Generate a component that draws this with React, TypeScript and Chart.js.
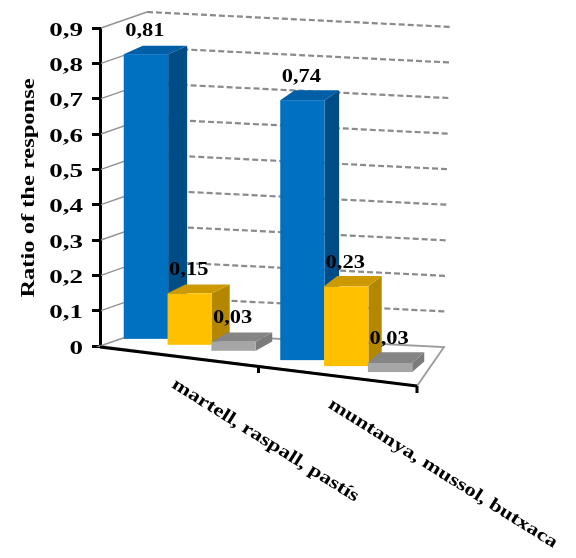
import React, { useEffect, useRef } from 'react';
import { Chart, registerables } from 'chart.js';

Chart.register(...registerables);

// ---- data ----
const categories = ['martell, raspall, pastís', 'muntanya, mussol, butxaca'];
const seriesBlue = [0.81, 0.74];
const seriesYellow = [0.15, 0.23];
const seriesGray = [0.03, 0.03];
const yTickValues = [0, 0.1, 0.2, 0.3, 0.4, 0.5, 0.6, 0.7, 0.8, 0.9];
const yTickLabels = ['0', '0,1', '0,2', '0,3', '0,4', '0,5', '0,6', '0,7', '0,8', '0,9'];
const yTitle = 'Ratio of the response';

// ---- styles ----
const FONT = '"Liberation Serif", "Times New Roman", serif';
const seriesColors = [
  { front: '#0070C0', top: '#005FA6', side: '#004C86' },
  { front: '#FFC000', top: '#CC9A00', side: '#B38700' },
  { front: '#A6A6A6', top: '#858585', side: '#7B7B7B' },
];

const lerp = (a: number, b: number, t: number) => a + (b - a) * t;
const fmt = (v: number) => v.toFixed(2).replace('.', ',');

function stretchedText(
  ctx: CanvasRenderingContext2D, text: string, x: number, y: number,
  size: number, sx: number, angle: number, align: CanvasTextAlign, baseline: CanvasTextBaseline
) {
  ctx.save();
  ctx.translate(x, y);
  if (angle) ctx.rotate(angle);
  ctx.scale(sx, 1);
  ctx.font = `bold ${size}px ${FONT}`;
  ctx.textAlign = align;
  ctx.textBaseline = baseline;
  ctx.fillStyle = '#000';
  ctx.fillText(text, 0, 0);
  ctx.restore();
}

// perspective frame derived from the chart area
function frame(L: number, R: number, T: number, B: number) {
  return {
    fl: [L, B], fr: [R, B + 40],
    blb: [L + 41, B - 14], brb: [R + 27, B + 1],
    blt: [L + 47, T - 16], brt: [R + 35, T - 1],
  };
}

const depthPlugin = {
  id: 'depth3d',
  beforeDatasetsDraw(chart: any) {
    const { ctx, chartArea } = chart;
    const { left: L, right: R, top: T, bottom: B } = chartArea;
    const g = frame(L, R, T, B);
    const ys = chart.scales.y;
    ctx.save();
    // floor
    ctx.beginPath();
    ctx.moveTo(g.fl[0], g.fl[1]);
    ctx.lineTo(g.fr[0], g.fr[1]);
    ctx.lineTo(g.brb[0], g.brb[1]);
    ctx.lineTo(g.blb[0], g.blb[1]);
    ctx.closePath();
    ctx.fillStyle = '#ffffff';
    ctx.fill();
    ctx.strokeStyle = '#9a9a9a';
    ctx.lineWidth = 1.8;
    ctx.stroke();
    // walls grid
    for (const v of yTickValues) {
      if (v === 0) continue;
      const py = ys.getPixelForValue(v);
      const t = (B - py) / (B - T);
      const bl = [lerp(g.blb[0], g.blt[0], t), lerp(g.blb[1], g.blt[1], t)];
      const br = [lerp(g.brb[0], g.brt[0], t), lerp(g.brb[1], g.brt[1], t)];
      ctx.setLineDash([]);
      ctx.strokeStyle = '#929292';
      ctx.lineWidth = 1.4;
      ctx.beginPath();
      ctx.moveTo(L + 1, py);
      ctx.lineTo(bl[0], bl[1]);
      ctx.stroke();
      ctx.setLineDash([6, 3]);
      ctx.strokeStyle = '#8a8a8a';
      ctx.lineWidth = 2.2;
      ctx.beginPath();
      ctx.moveTo(bl[0], bl[1]);
      ctx.lineTo(br[0], br[1]);
      ctx.stroke();
    }
    ctx.restore();
  },
  afterDatasetsDraw(chart: any) {
    const { ctx, chartArea } = chart;
    const { left: L, right: R, top: T, bottom: B } = chartArea;
    const W = R - L;
    const metas = chart.data.datasets.map((_: any, i: number) => chart.getDatasetMeta(i));
    const labels: { text: string; x: number; y: number }[] = [];
    ctx.save();
    for (let c = 0; c < categories.length; c++) {
      for (let s = 0; s < metas.length; s++) {
        const el = metas[s].data[c];
        const p = el.getProps(['x', 'y', 'base', 'width'], true);
        const u = (p.x - L) / W;
        const shift = lerp(11.5, 7.5, u);
        const xl = p.x - p.width / 2 + shift;
        const xr = p.x + p.width / 2 + shift;
        const xc = (xl + xr) / 2;
        const yb = B - 7 + 0.136 * (xc - (L + 47));
        const h = p.base - p.y;
        const yt = yb - h;
        const dx = lerp(20, 11, u);
        const dy = lerp(-8, -11, u);
        const col = seriesColors[s];
        // side
        ctx.fillStyle = col.side;
        ctx.beginPath();
        ctx.moveTo(xr, yt);
        ctx.lineTo(xr + dx, yt + dy);
        ctx.lineTo(xr + dx, yb + dy);
        ctx.lineTo(xr, yb);
        ctx.closePath();
        ctx.fill();
        // top
        ctx.fillStyle = col.top;
        ctx.beginPath();
        ctx.moveTo(xl, yt);
        ctx.lineTo(xr, yt);
        ctx.lineTo(xr + dx, yt + dy);
        ctx.lineTo(xl + dx, yt + dy);
        ctx.closePath();
        ctx.fill();
        // front
        ctx.fillStyle = col.front;
        ctx.fillRect(xl, yt, xr - xl, h);
        const val = chart.data.datasets[s].data[c] as number;
        labels.push({ text: fmt(val), x: xc - 1, y: yt - 18.5 });
      }
    }
    // front floor edge
    ctx.strokeStyle = '#000';
    ctx.lineWidth = 3;
    ctx.beginPath();
    ctx.moveTo(L, B + 1);
    ctx.lineTo(R, B + 40);
    ctx.stroke();
    const catW = W / categories.length;
    for (let i = 1; i <= categories.length; i++) {
      const px = L + i * catW;
      const py = B + 40 * (px - L) / W;
      ctx.beginPath();
      ctx.moveTo(px, py);
      ctx.lineTo(px, py + 7);
      ctx.stroke();
    }
    // data labels
    for (const lb of labels) stretchedText(ctx, lb.text, lb.x, lb.y, 18, 1.25, 0, 'center', 'alphabetic');
    // category labels
    const xs = chart.scales.x;
    for (let i = 0; i < categories.length; i++) {
      const px = xs.getPixelForValue(i);
      const u = (px - L) / W;
      const cx = px + lerp(11.5, 7.5, u);
      stretchedText(ctx, categories[i], cx - 19, B + 40 * u + 31, 18, 1.27, (32 * Math.PI) / 180, 'left', 'alphabetic');
    }
    // y tick labels
    const ys = chart.scales.y;
    for (let i = 0; i < yTickValues.length; i++) {
      const py = ys.getPixelForValue(yTickValues[i]);
      stretchedText(ctx, yTickLabels[i], 83, py + 3, 18, 1.5, 0, 'right', 'middle');
    }
    // y title
    stretchedText(ctx, yTitle, 34, (T + B) / 2 + 1, 18, 1.36, -Math.PI / 2, 'center', 'alphabetic');
    ctx.restore();
  },
};

export default function App() {
  const ref = useRef<HTMLCanvasElement>(null);
  useEffect(() => {
    const canvas = ref.current!;
    const values = [seriesBlue, seriesYellow, seriesGray];
    const chart = new Chart(canvas, {
      type: 'bar',
      data: {
        labels: categories,
        datasets: values.map((d, i) => ({
          label: `s${i}`,
          data: d,
          backgroundColor: 'rgba(0,0,0,0)',
          borderWidth: 0,
          categoryPercentage: 0.84,
          barPercentage: 1.0,
        })),
      },
      options: {
        responsive: false,
        animation: false,
        events: [],
        layout: { padding: { left: 0, top: 28, right: 159, bottom: 212 } },
        plugins: { legend: { display: false }, tooltip: { enabled: false } },
        scales: {
          x: { type: 'category', display: false },
          y: {
            min: 0,
            max: 0.9,
            ticks: { display: false, stepSize: 0.1 },
            grid: { drawOnChartArea: false, drawTicks: true, tickLength: 8, color: '#000', lineWidth: 3 },
            border: { color: '#000', width: 3 },
            afterFit: (s: any) => { s.width = 100; },
          },
        },
      },
      plugins: [depthPlugin],
    });
    return () => chart.destroy();
  }, []);
  return (
    <div style={{ position: 'absolute', left: 0, top: 0, width: 576, height: 558 }}>
      <canvas ref={ref} width={576} height={558} style={{ display: 'block', width: 576, height: 558 }} />
    </div>
  );
}
